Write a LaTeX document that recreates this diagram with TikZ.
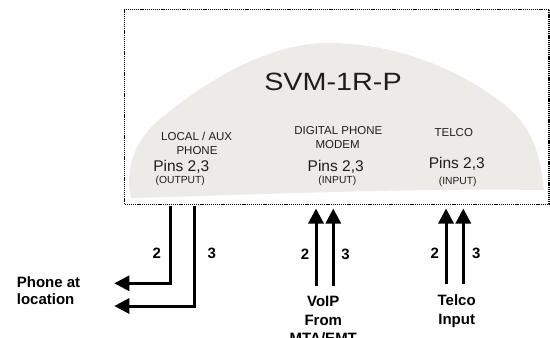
\documentclass[tikz,border=0pt]{standalone}
\usepackage{fontspec}
\setmainfont{Liberation Sans}
\usetikzlibrary{arrows.meta}
\definecolor{blobgray}{RGB}{236,235,231}
\definecolor{txt}{RGB}{30,30,30}
\begin{document}
\begin{tikzpicture}[x=1pt,y=-1pt,
  wire/.style={line width=3pt,line join=miter},
  arr/.style={wire,-{Triangle[width=15pt,length=15pt]}},
  lbl/.style={inner sep=0pt,anchor=base,text=txt},
  small/.style={lbl,font=\fontsize{11.5}{13}\selectfont},
  pins/.style={lbl,font=\fontsize{15.5}{18}\selectfont},
  tiny/.style={lbl,font=\fontsize{10.3}{12}\selectfont},
  bold/.style={inner sep=0pt,anchor=base,font=\fontsize{15}{17}\selectfont\bfseries},
  frame/.style={line width=1.2pt,dash pattern=on 1.2pt off 0.9pt}
]
\useasboundingbox (0,0) rectangle (550,338);

% device outline
\fill[blobgray] (131,197) .. controls (125,175) and (131,140) .. (165,115)
  .. controls (220,70) and (280,42) .. (330,43)
  .. controls (400,44) and (460,70) .. (505,105)
  .. controls (530,125) and (540,150) .. (544,190)
  .. controls (400,188) and (250,195) .. (131,198) -- cycle;
\draw[frame] (124.7,9.3) rectangle (549,204.5);

% texts
\node[lbl,font=\fontsize{25}{30}\selectfont] (title) at (333,90.7) {\scalebox{1.15}[1]{SVM-1R-P}};

\node[small] (loc1) at (196.7,140) {LOCAL / AUX};
\node[small] (loc2) at (197,154) {PHONE};
\node[pins] (locp) at (181.3,171.7) {Pins 2,3};
\node[tiny] (loco) at (180.3,183.7) {(OUTPUT)};

\node[small] (dig1) at (338.3,134.3) {DIGITAL PHONE};
\node[small] (dig2) at (337.7,148.3) {MODEM};
\node[pins] (digp) at (335.7,171.7) {Pins 2,3};
\node[tiny] (digi) at (337.3,183.7) {(INPUT)};

\node[small] (tel1) at (453.8,136) {TELCO};
\node[pins] (telp) at (456.8,168.3) {Pins 2,3};
\node[tiny] (teli) at (457.7,184) {(INPUT)};

% connection points
\coordinate (o2) at (170.7,206);
\coordinate (o3) at (194,206);
\coordinate (e2) at (114.3,283.3);
\coordinate (e3) at (114.3,306);

\coordinate (v2b) at (316,285.7);
\coordinate (v3b) at (333.3,285.7);
\coordinate (v2t) at (316,208.5);
\coordinate (v3t) at (333.3,208.5);

\coordinate (t2b) at (446,284.3);
\coordinate (t3b) at (463.3,284.3);
\coordinate (t2t) at (446,208.5);
\coordinate (t3t) at (463.3,208.5);

\draw[arr] (o2) |- (e2);
\draw[arr] (o3) |- (e3);
\draw[arr] (v2b) -- (v2t);
\draw[arr] (v3b) -- (v3t);
\draw[arr] (t2b) -- (t2t);
\draw[arr] (t3b) -- (t3t);

% wire labels
\node[bold] (lo2) at (156.7,258.3) {2};
\node[bold] (lo3) at (211.7,258.3) {3};
\node[bold] (lv2) at (305,259.3) {2};
\node[bold] (lv3) at (345.5,259.3) {3};
\node[bold] (lt2) at (434.7,258.3) {2};
\node[bold] (lt3) at (476.3,258.3) {3};

% end labels
\node[bold,anchor=base west,align=left] (ph1) at (16.7,287.3) {Phone at};
\node[bold,anchor=base west] (ph2) at (16.7,304) {location};
\node[bold] (vo1) at (323.3,306.7) {VoIP};
\node[bold] (vo2) at (323.3,325) {From};
\node[bold] (vo3) at (323.3,343) {MTA/EMT};
\node[bold] (te1) at (456.7,305) {Telco};
\node[bold] (te2) at (456.7,324) {Input};
\end{tikzpicture}
\end{document}
